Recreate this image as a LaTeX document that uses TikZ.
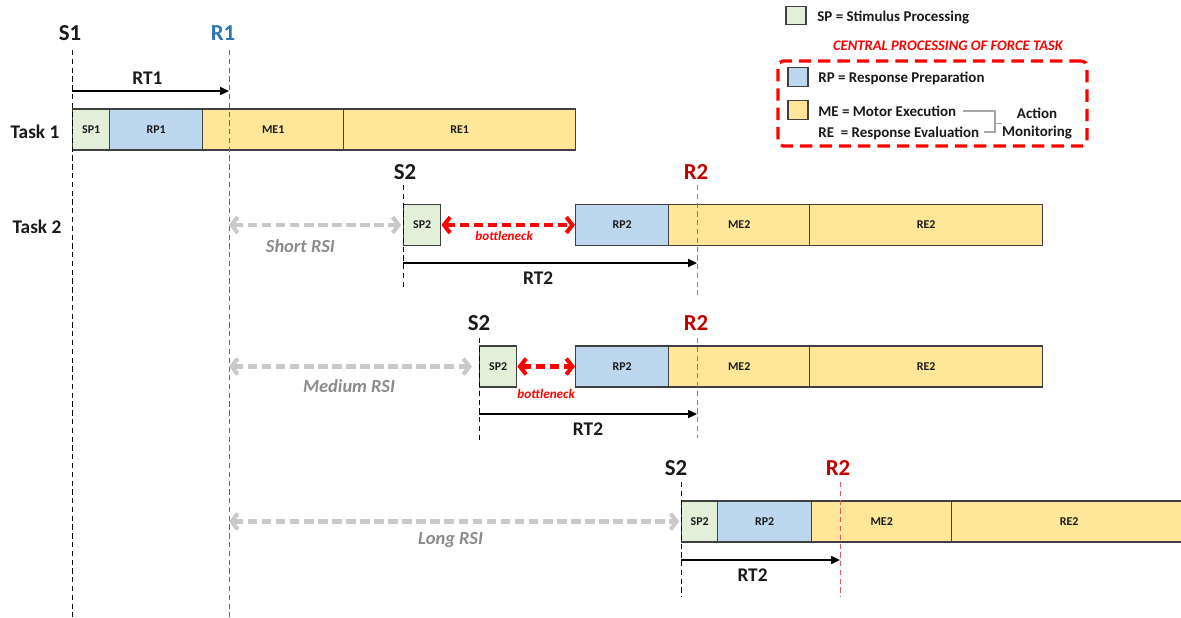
\documentclass[tikz,border=0pt]{standalone}
\usepackage{fontspec}
\setmainfont{Carlito}
\usetikzlibrary{positioning,calc,arrows.meta}
\definecolor{SPGreen}{HTML}{E2F0D9}
\definecolor{RPBlue}{HTML}{BDD7EE}
\definecolor{MEYellow}{HTML}{FFE699}
\definecolor{Edge}{HTML}{404040}
\definecolor{Ink}{HTML}{1A1A1A}
\definecolor{ROneBlue}{HTML}{2E75B6}
\definecolor{RTwoRed}{HTML}{C00000}
\definecolor{RTwoLine}{HTML}{E05A5A}
\definecolor{Neck}{HTML}{FF0000}
\definecolor{RSIGray}{HTML}{C9C9C9}
\definecolor{RSIText}{HTML}{8C8C8C}
\definecolor{Bracket}{HTML}{A6A6A6}

\begin{document}
\begin{tikzpicture}[font=\bfseries,every node/.style={text=Ink},phase/.style={draw=Edge,line width=0.8pt,minimum height=0.82cm,inner sep=0pt,anchor=west,font=\fontsize{6.8}{8}\selectfont\bfseries},spbox/.style={phase,fill=SPGreen},rpbox/.style={phase,fill=RPBlue},mebox/.style={phase,fill=MEYellow},stimlabel/.style={font=\fontsize{13}{15}\selectfont\bfseries,inner sep=1pt},resplabel/.style={stimlabel,text=RTwoRed},tasklabel/.style={font=\fontsize{11}{13}\selectfont\bfseries},onset/.style={line width=0.5pt,dash pattern=on 3pt off 2pt},rtarrow/.style={line width=0.9pt,-{Triangle[length=5pt,width=4.5pt]}},rtlabel/.style={font=\fontsize{11}{13}\selectfont\bfseries},rsiarrow/.style={RSIGray,line width=2.3pt,dash pattern=on 5.5pt off 2.5pt,shorten >=1pt,{Straight Barb[length=3.5pt,width=9pt]}-{Straight Barb[length=3.5pt,width=9pt]}},rsilabel/.style={text=RSIText,font=\fontsize{10.5}{12}\selectfont\bfseries\itshape},neckarrow/.style={Neck,line width=2.3pt,dash pattern=on 5pt off 3pt,{Straight Barb[length=3.5pt,width=9pt]}-{Straight Barb[length=3.5pt,width=9pt]}},necklabel/.style={text=Neck,font=\fontsize{7.5}{9}\selectfont\bfseries\itshape,inner sep=1pt},keybox/.style={draw=Edge,line width=0.8pt,minimum width=0.40cm,minimum height=0.37cm,inner sep=0pt},keytext/.style={anchor=west,font=\fontsize{8.5}{10}\selectfont\bfseries,inner sep=0pt,text height=0.64em,text depth=0pt}]
\path[use as bounding box,fill=white] (0,0) rectangle (23.62,-12.34);
\def\yone{-2.59}\def\ytwo{-4.50}\def\ythree{-7.33}\def\yfour{-10.43}
\def\xsone{1.44}\def\xrone{4.58}\def\xrtwo{13.94}
\node[tasklabel] (task1) at (0.70,-2.64) {Task 1};\node[tasklabel] (task2) at (0.74,-4.54) {Task 2};
\node[spbox,minimum width=0.74cm] (sp1) at (\xsone,\yone) {SP1};\node[rpbox,minimum width=1.86cm] (rp1) at (2.18,\yone) {RP1};\node[mebox,minimum width=2.82cm] (me1) at (4.04,\yone) {ME1};\node[mebox,minimum width=4.64cm] (re1) at (6.86,\yone) {RE1};
\node[spbox,minimum width=0.74cm] (sp2a) at (8.06,\ytwo) {SP2};\node[rpbox,minimum width=1.86cm] (rp2a) at (11.50,\ytwo) {RP2};\node[mebox,minimum width=2.82cm] (me2a) at (13.36,\ytwo) {ME2};\node[mebox,minimum width=4.66cm] (re2a) at (16.18,\ytwo) {RE2};
\node[spbox,minimum width=0.74cm] (sp2b) at (9.58,\ythree) {SP2};\node[rpbox,minimum width=1.86cm] (rp2b) at (11.50,\ythree) {RP2};\node[mebox,minimum width=2.82cm] (me2b) at (13.36,\ythree) {ME2};\node[mebox,minimum width=4.66cm] (re2b) at (16.18,\ythree) {RE2};
\node[spbox,minimum width=0.72cm] (sp2c) at (13.62,\yfour) {SP2};\node[rpbox,minimum width=1.88cm] (rp2c) at (14.34,\yfour) {RP2};\node[mebox,minimum width=2.80cm] (me2c) at (16.22,\yfour) {ME2};\node[mebox,minimum width=4.70cm] (re2c) at (19.02,\yfour) {RE2};
\node[stimlabel] (s1) at (1.40,-0.66) {S1};\node[stimlabel,text=ROneBlue] (r1) at (4.46,-0.66) {R1};
\node[stimlabel] (s2a) at (8.10,-3.44) {S2};\node[resplabel] (r2a) at (13.92,-3.44) {R2};
\node[stimlabel] (s2b) at (9.58,-6.46) {S2};\node[resplabel] (r2b) at (13.92,-6.46) {R2};
\node[stimlabel] (s2c) at (13.52,-9.36) {S2};\node[resplabel] (r2c) at (16.76,-9.36) {R2};
\coordinate (s1top) at (\xsone,-1.0);\coordinate (s1end) at (\xsone,-12.34);\coordinate (r1top) at (\xrone,-1.0);\coordinate (r1end) at (\xrone,-12.34);
\coordinate (s2atop) at (8.06,-3.70);\coordinate (s2aend) at (8.06,-5.80);\coordinate (r2atop) at (\xrtwo,-3.70);\coordinate (r2aend) at (\xrtwo,-5.90);
\coordinate (s2btop) at (9.58,-6.76);\coordinate (s2bend) at (9.58,-8.80);\coordinate (r2btop) at (\xrtwo,-6.76);\coordinate (r2bend) at (\xrtwo,-8.76);
\coordinate (s2ctop) at (13.62,-9.64);\coordinate (s2cend) at (13.62,-11.94);\coordinate (r2ctop) at (16.80,-9.64);\coordinate (r2cend) at (16.80,-11.94);
\draw[onset] (s1top) -- (s1end);\draw[onset,ROneBlue] (r1top) -- (r1end);
\draw[onset] (s2atop) -- (s2aend);\draw[onset,RTwoLine] (r2atop) -- (r2aend);
\draw[onset] (s2btop) -- (s2bend);\draw[onset,RTwoLine] (r2btop) -- (r2bend);
\draw[onset] (s2ctop) -- (s2cend);\draw[onset,RTwoLine] (r2ctop) -- (r2cend);
\coordinate (rt1a) at (\xsone,-1.82);\coordinate (rt1b) at (\xrone,-1.82);
\coordinate (rt2aa) at (8.06,-5.26);\coordinate (rt2ab) at (\xrtwo,-5.26);
\coordinate (rt2ba) at (9.58,-8.28);\coordinate (rt2bb) at (\xrtwo,-8.28);
\coordinate (rt2ca) at (13.62,-11.20);\coordinate (rt2cb) at (16.80,-11.20);
\draw[rtarrow] (rt1a) -- node[rtlabel,above=0pt,pos=0.48] (rt1lab) {RT1} (rt1b);
\draw[rtarrow] (rt2aa) -- node[rtlabel,below=1.5pt,pos=0.46] (rt2alab) {RT2} (rt2ab);
\draw[rtarrow] (rt2ba) -- node[rtlabel,below=1.5pt,pos=0.50] (rt2blab) {RT2} (rt2bb);
\draw[rtarrow] (rt2ca) -- node[rtlabel,below=1.5pt,pos=0.45] (rt2clab) {RT2} (rt2cb);
\coordinate (rsia) at (\xrone,\ytwo);\coordinate (rsib) at (\xrone,\ythree);\coordinate (rsic) at (\xrone,\yfour);
\draw[rsiarrow] (rsia) -- node[rsilabel,below=4pt,pos=0.41] (shortlab) {Short RSI} (sp2a);
\draw[rsiarrow,shorten >=4pt] (rsib) -- node[rsilabel,below=3pt,pos=0.48] (mediumlab) {Medium RSI} (sp2b);
\draw[rsiarrow] (rsic) -- node[rsilabel,below=2pt,pos=0.49] (longlab) {Long RSI} (sp2c);
\draw[neckarrow] (sp2a) -- node[necklabel,below=1.5pt,pos=0.47] (necka) {bottleneck} (rp2a);
\draw[neckarrow] (sp2b) -- node[necklabel,below=11pt] (neckb) {bottleneck} (rp2b);
\node[keybox,fill=SPGreen] (spkey) at (15.92,-0.31) {};\node[keytext] (sptext) at (16.34,-0.32) {SP = Stimulus Processing};
\node[text=Neck,font=\fontsize{8.3}{10}\selectfont\bfseries\itshape] (cptitle) at (18.96,-0.92) {CENTRAL PROCESSING OF FORCE TASK};
\node[draw=Neck,line width=1.8pt,dash pattern=on 7pt off 4pt,rounded corners=3pt,minimum width=6.18cm,minimum height=1.70cm,inner sep=0pt] (cpframe) at (18.65,-2.07) {};
\node[keybox,fill=RPBlue] (rpkey) at (15.96,-1.54) {};\node[keytext] (rptext) at (16.36,-1.54) {RP = Response Preparation};
\node[keybox,fill=MEYellow] (mekey) at (15.96,-2.20) {};\node[keytext] (metext) at (16.36,-2.22) {ME = Motor Execution};
\node[keytext] (retext) at (16.36,-2.64) {RE\ \ = Response Evaluation};
\node[align=center,font=\fontsize{8.5}{10.2}\selectfont\bfseries,inner sep=0pt] (actmon) at (20.74,-2.47) {Action\\Monitoring};
\coordinate (brk) at (19.90,-2.47);
\draw[Bracket,line width=0.6pt] ([xshift=4pt]metext.east) -| (brk) |- ([xshift=2.5pt]retext.east);
\draw[Bracket,line width=0.6pt] (brk) -- (actmon.west);
\end{tikzpicture}
\end{document}
